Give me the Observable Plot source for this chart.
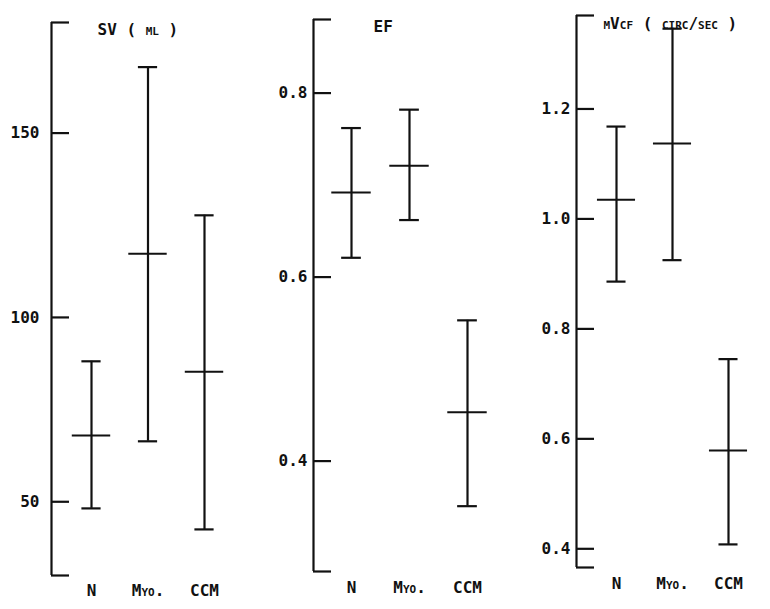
<!DOCTYPE html>
<html>
<head>
<meta charset="utf-8">
<script src="https://cdn.jsdelivr.net/npm/d3@7"></script>
<script src="https://cdn.jsdelivr.net/npm/@observablehq/plot@0.6"></script>
<style>
  body { margin: 0; background: #fff; }
  #wrap { display: flex; width: 770px; height: 609px; overflow: hidden; }
  #wrap svg { overflow: visible; }
</style>
</head>
<body>
<div id="wrap"></div>
<script>
// Groups
const categories = ["N", "Myo.", "CCM"];

// SV (ml)
const svLow  = [48.2, 66.4, 42.5];
const svMean = [68.0, 117.3, 85.3];
const svHigh = [88.1, 167.9, 127.7];
const svDomain = [30, 180];
const svTicks = [50, 100, 150];
const svTickLabels = ["50", "100", "150"];

// EF
const efLow  = [0.621, 0.662, 0.351];
const efMean = [0.692, 0.721, 0.453];
const efHigh = [0.762, 0.782, 0.553];
const efDomain = [0.28, 0.88];
const efTicks = [0.4, 0.6, 0.8];
const efTickLabels = ["0.4", "0.6", "0.8"];

// mVcf (circ/sec)
const vcfLow  = [0.886, 0.925, 0.408];
const vcfMean = [1.035, 1.137, 0.579];
const vcfHigh = [1.168, 1.346, 0.745];
const vcfDomain = [0.366, 1.37];
const vcfTicks = [0.4, 0.6, 0.8, 1.0, 1.2];
const vcfTickLabels = ["0.4", "0.6", "0.8", "1.0", "1.2"];

const titles = ["SV ( ml )", "EF", "mVcf ( circ/sec )"];

const INK = "#111";
const LW = 2.2;

function panel(cfg) {
  const rows = categories.map((c, i) => ({
    cat: c, pos: i + 1, low: cfg.low[i], mean: cfg.mean[i], high: cfg.high[i]
  }));
  const s = (cfg.ccmPx - cfg.nPx) / 2;
  const axisX = 1 - (cfg.nPx - cfg.axisPx) / s;
  const tickValues = [cfg.domain[0], ...cfg.ticks, cfg.domain[1]];
  return Plot.plot({
    width: cfg.width,
    height: 609,
    marginLeft: cfg.axisPx,
    marginRight: 0,
    marginTop: cfg.top,
    marginBottom: 609 - cfg.bottom,
    style: {
      fontFamily: "'DejaVu Sans Mono', monospace",
      fontSize: "16px",
      fontWeight: "bold",
      color: INK,
      background: "white",
      overflow: "visible"
    },
    x: { type: "linear", domain: [1, 3], range: [cfg.nPx, cfg.ccmPx], axis: null },
    y: { domain: cfg.domain },
    marks: [
      Plot.ruleX([axisX], { y1: cfg.domain[0], y2: cfg.domain[1], stroke: INK, strokeWidth: LW }),
      Plot.axisY(tickValues, {
        tickSize: 18,
        dx: 18,
        tickPadding: cfg.padding,
        stroke: INK,
        strokeWidth: LW,
        fill: INK,
        tickFormat: d => {
          const k = cfg.ticks.indexOf(d);
          return k < 0 ? "" : cfg.labels[k];
        }
      }),
      Plot.ruleX(rows, { x: "pos", y1: "low", y2: "high", stroke: INK, strokeWidth: LW }),
      Plot.ruleY(rows, { y: "high", x1: d => d.pos - 0.17, x2: d => d.pos + 0.17, stroke: INK, strokeWidth: LW }),
      Plot.ruleY(rows, { y: "low", x1: d => d.pos - 0.17, x2: d => d.pos + 0.17, stroke: INK, strokeWidth: LW }),
      Plot.ruleY(rows, { y: "mean", x1: d => d.pos - 0.34, x2: d => d.pos + 0.34, stroke: INK, strokeWidth: 2 }),
      Plot.text(rows, {
        x: "pos", text: "cat", frameAnchor: "bottom", dy: cfg.labelDy,
        fontVariant: "small-caps", fill: INK
      }),
      Plot.text([cfg.title], {
        frameAnchor: "top-left", textAnchor: "start", dx: cfg.titleDx, dy: cfg.titleDy,
        fontVariant: "small-caps", fill: INK
      })
    ]
  });
}

const wrap = document.getElementById("wrap");
wrap.append(
  panel({
    width: 262, axisPx: 51, nPx: 91, ccmPx: 204, top: 22, bottom: 575,
    domain: svDomain, ticks: svTicks, labels: svTickLabels,
    low: svLow, mean: svMean, high: svHigh, padding: 12,
    labelDy: 20, title: titles[0], titleDx: 46, titleDy: 1
  }),
  panel({
    width: 270, axisPx: 51, nPx: 89, ccmPx: 205, top: 19, bottom: 571,
    domain: efDomain, ticks: efTicks, labels: efTickLabels,
    low: efLow, mean: efMean, high: efHigh, padding: 6,
    labelDy: 21, title: titles[1], titleDx: 60, titleDy: 1
  }),
  panel({
    width: 238, axisPx: 44, nPx: 84, ccmPx: 196, top: 15, bottom: 567,
    domain: vcfDomain, ticks: vcfTicks, labels: vcfTickLabels,
    low: vcfLow, mean: vcfMean, high: vcfHigh, padding: 6,
    labelDy: 21, title: titles[2], titleDx: 27, titleDy: 2
  })
);
</script>
</body>
</html>
